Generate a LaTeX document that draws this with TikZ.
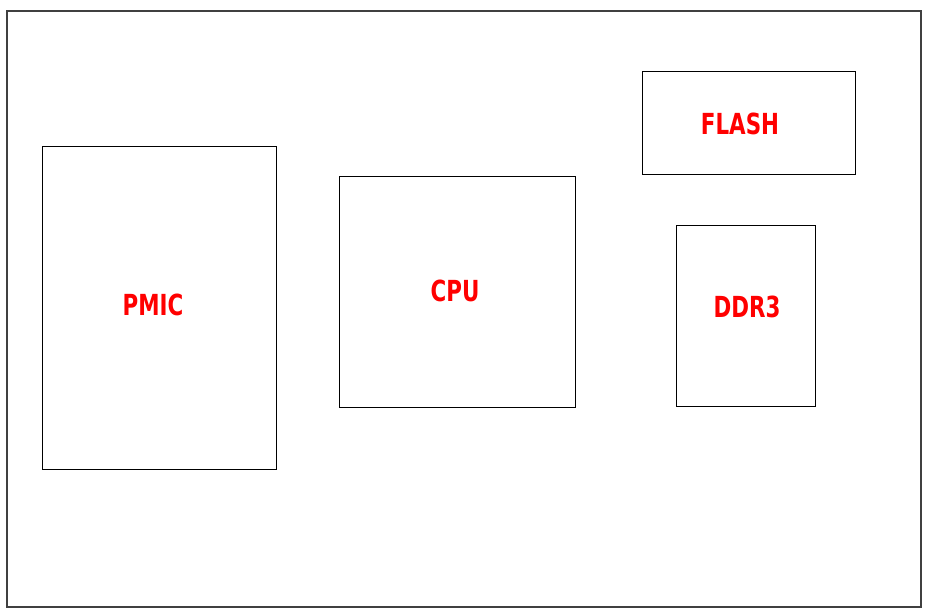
\documentclass[tikz,border=0pt]{standalone}
\usepackage{fontspec}
\setmainfont{DejaVu Sans Condensed}
\begin{document}
\begin{tikzpicture}[x=1pt,y=-1pt,
  blk/.style={draw=black,line width=0.9pt},
  lbl/.style={text=red,font=\bfseries\fontsize{29}{31}\selectfont,xscale=0.82,inner sep=0pt}]
\useasboundingbox (0,0) rectangle (928,615);
\draw[draw=black!75,line width=1.3pt] (7,11) rectangle (921,607);
\draw[blk] (42,146) rectangle (276,469);
\draw[blk] (339,176) rectangle (575,407);
\draw[blk] (642,71) rectangle (855,174);
\draw[blk] (676,225) rectangle (815,406);
\node[lbl] (pmic) at (153,305) {PMIC};
\node[lbl] (cpu) at (455,291) {CPU};
\node[lbl] (flash) at (740,124) {FLASH};
\node[lbl] (ddr) at (747,307) {DDR3};
\end{tikzpicture}
\end{document}
